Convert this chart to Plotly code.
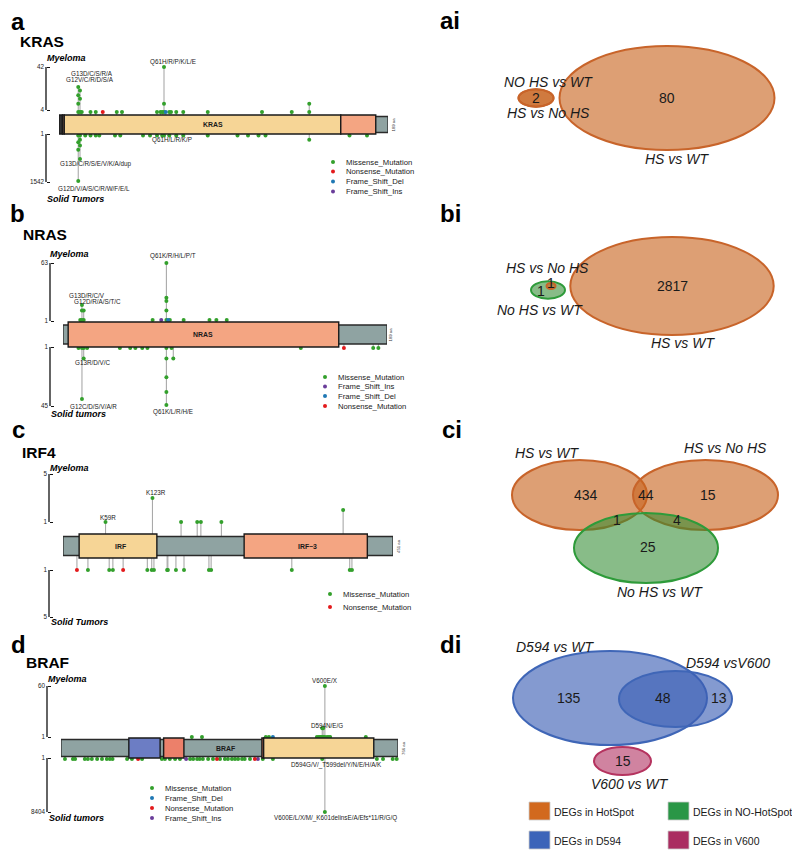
import math
import plotly.graph_objects as go

W, H = 800, 858
OFF = 8                 # default page body margin of the html page
FW, FH = W - OFF, H - OFF

# ============================== DATA ==============================
# mutation type codes: M=Missense, N=Nonsense, D=Frame_Shift_Del, I=Frame_Shift_Ins
MUT_NAMES = {"M": "Missense_Mutation", "N": "Nonsense_Mutation",
             "D": "Frame_Shift_Del", "I": "Frame_Shift_Ins"}

# ---- KRAS ----
kras_length = 189
kras_up_pos = [12, 12, 12, 12, 13, 13, 13, 14, 19, 22, 26, 34, 37, 57, 59, 60, 61, 61, 61,
               62, 64, 65, 68, 72, 86, 117, 134, 144, 144]
kras_up_cnt = [8, 4, 2, 1, 6, 3, 1, 1, 1, 1, 1, 1, 1, 1, 1, 1, 42, 2, 1,
               1, 1, 1, 1, 1, 1, 1, 1, 2, 1]
kras_up_type = ["M", "M", "M", "M", "M", "M", "M", "M", "M", "M", "N", "M", "M", "M", "M", "M", "M", "M", "M",
                "D", "M", "M", "M", "M", "M", "M", "M", "M", "M"]
kras_dn_pos = [12, 12, 12, 12, 13, 13, 13, 13, 16, 19, 22, 24, 33, 36, 49, 53, 57, 60, 61, 64,
               68, 72, 86, 103, 109, 115, 119, 144, 167, 177]
kras_dn_cnt = [1542, 10, 3, 1, 44, 5, 2, 1, 1, 1, 1, 1, 1, 1, 1, 1, 1, 1, 1, 1,
               1, 1, 1, 1, 1, 1, 1, 2, 1, 1]
kras_dn_type = ["M"] * len(kras_dn_pos)
kras_up_max, kras_dn_max = 42, 1542
kras_ticks = ["42", "4", "1", "1542"]
kras_up_labels = ["G13D/C/S/R/A", "G12V/C/R/D/S/A", "Q61H/R/P/K/L/E"]
kras_dn_labels = ["Q61H/L/R/K/P", "G13D/C/R/S/E/V/K/A/dup", "G12D/V/A/S/C/R/W/F/E/L"]
kras_legend = ["M", "N", "D", "I"]
kras_domains = [(1, 3, ""), (3, 4, ""), (4, 162, ""), (162, 182, "")]

# ---- NRAS ----
nras_length = 189
nras_up_pos = [11, 12, 12, 12, 13, 13, 53, 58, 61, 61, 61, 61, 61, 62, 63, 71, 86, 90, 96]
nras_up_cnt = [1, 3, 2, 1, 2, 1, 1, 1, 63, 5, 4, 2, 1, 1, 1, 1, 1, 1, 1]
nras_up_type = ["M", "M", "M", "M", "M", "M", "M", "I", "M", "M", "M", "M", "M", "D", "M", "M", "M", "M", "M"]
nras_dn_pos = [10, 12, 12, 13, 13, 15, 34, 40, 43, 47, 50, 61, 61, 61, 61, 61, 64, 65, 139, 164, 181, 184]
nras_dn_cnt = [1, 30, 1, 2, 1, 1, 1, 1, 1, 1, 1, 45, 19, 7, 2, 1, 1, 2, 1, 1, 1, 1]
nras_dn_type = ["M"] * 19 + ["N", "M", "M"]
nras_up_max, nras_dn_max = 63, 45
nras_ticks = ["63", "1", "1", "45"]
nras_up_labels = ["G13D/R/C/V", "G12D/R/A/S/T/C", "Q61K/R/H/L/P/T"]
nras_dn_labels = ["G13R/D/V/C", "G12C/D/S/V/A/R", "Q61K/L/R/H/E"]
nras_legend = ["M", "I", "D", "N"]
nras_domains = [(4, 161, "NRAS")]

# ---- IRF4 ----
irf4_length = 451
irf4_up_pos = [59, 123, 162, 184, 189, 217, 383]
irf4_up_cnt = [1, 3, 1, 1, 1, 1, 2]
irf4_up_type = ["M"] * 7
irf4_dn_pos = [20, 35, 64, 69, 83, 116, 122, 125, 143, 144, 155, 166, 200, 203, 313, 392, 395]
irf4_dn_cnt = [1] * 17
irf4_dn_type = ["N", "M", "M", "M", "N", "M", "M", "M", "M", "M", "M", "M", "M", "M", "M", "M", "M"]
irf4_up_max, irf4_dn_max = 5, 5
irf4_ticks = ["5", "1", "1", "5"]
irf4_up_labels = ["K59R", "K123R"]
irf4_dn_labels = []
irf4_legend = ["M", "N"]
irf4_domains = [(23, 129, "IRF"), (248, 416, "IRF\u22123")]

# ---- BRAF ----
braf_length = 766
braf_up_pos = [298, 321, 466, 473, 482, 582, 586, 589, 591, 594, 594, 596, 597, 600, 600, 605, 609, 612, 693]
braf_up_cnt = [1, 1, 1, 1, 1, 1, 1, 1, 1, 2, 1, 2, 1, 60, 1, 1, 1, 1, 1]
braf_up_type = ["M", "M", "M", "M", "D"] + ["M"] * 14
braf_dn_pos = [10, 28, 33, 55, 62, 71, 83, 94, 105, 112, 118, 151, 162, 176, 185, 230, 237, 248, 260,
               271, 285, 294, 301, 310, 316, 323, 335, 346, 355, 362, 373, 380, 389, 396, 403, 412,
               418, 430, 441, 448, 459, 482, 594, 600, 718, 732, 754, 763]
braf_dn_cnt = [1] * 43 + [8404, 1, 1, 1, 1]
braf_dn_type = (["M"] * 13 + ["N"] + ["M"] * 6 + ["I"] + ["M"] * 7 + ["N"] + ["M"] * 9
                + ["N", "I"] + ["M"] * 8)
braf_up_max, braf_dn_max = 60, 8404
braf_ticks = ["60", "1", "1", "8404"]
braf_up_labels = ["V600E/X", "D594N/E/G"]
braf_dn_labels = ["D594G/V/_T599del/Y/N/E/H/A/K", "V600E/L/X/M/_K601delinsE/A/Efs*11/R/G/Q"]
braf_legend = ["M", "D", "N", "I"]
braf_domains = [(155, 226, ""), (234, 280, ""), (457, 461, ""), (461, 711, "")]

# ---- Venn diagrams ----
venn_a_labels = ["NO HS vs WT", "HS vs No HS", "HS vs WT"]
venn_a_counts = [2, 80]
venn_b_labels = ["HS vs No HS", "No HS vs WT", "HS vs WT"]
venn_b_counts = [1, 1, 2817]
venn_c_labels = ["HS vs WT", "HS vs No HS", "No HS vs WT"]
venn_c_counts = [434, 44, 15, 1, 4, 25]
venn_d_labels = ["D594 vs WT", "D594 vsV600", "V600 vs WT"]
venn_d_counts = [135, 48, 13, 15]
venn_legend = ["DEGs in HotSpot", "DEGs in NO-HotSpot", "DEGs in D594", "DEGs in V600"]

# ============================== STYLE / LAYOUT ==============================
SANS = "Liberation Sans, Arial, Helvetica, sans-serif"
MUT_COLORS = {"M": "#33A02C", "N": "#E31A1C", "D": "#1F78B4", "I": "#6A3D9A"}
BACKBONE = "#8FA3A2"
YELLOW, SALMON, BLUE_D, SALMON2 = "#F6D596", "#F4A582", "#6C7DC4", "#EC806A"
ORANGE_F, ORANGE_L = "rgba(200,100,30,0.62)", "#C8642A"
GREEN_F, GREEN_L = "rgba(50,140,50,0.58)", "#2E9B3A"
BLUE_F, BLUE_L = "rgba(60,95,180,0.63)", "#3F66B7"
PINK_F, PINK_L = "rgba(176,48,96,0.60)", "#B5335F"


def pxx(px):   # window pixel -> paper x
    return (px - OFF) / FW


def pxy(py):   # window pixel -> paper y
    return 1 - (py - OFF) / FH


panels = [
    dict(name="KRAS", L=kras_length, x0=59, x1=388, center=124.5, dom=9.5, bb=8,
         up_base=12.5, up_top=57.5, dn_base=11, dn_bot=56.5, scale="log",
         tick_px=[67, 110, 134, 182], axis_x=46, ticks=kras_ticks,
         up=(kras_up_pos, kras_up_cnt, kras_up_type, kras_up_max),
         dn=(kras_dn_pos, kras_dn_cnt, kras_dn_type, kras_dn_max),
         domains=kras_domains, dom_colors=["#333333", SALMON, YELLOW, SALMON],
         up_labels=kras_up_labels, up_lab_px=[(92, 73), (90, 79), (173, 62)],
         dn_labels=kras_dn_labels, dn_lab_px=[(172, 140), (96, 164), (94, 188)],
         legend=kras_legend, leg_x=333, leg_y=[162, 171.5, 181.5, 191.5],
         letter="a", letter_xy=(10, 30), gene_xy=(19, 41),
         myeloma="Myeloma", my_xy=(66, 58), solid="Solid Tumors", so_xy=(75, 199),
         inbar=[("KRAS", 213)], aa_x=393),
    dict(name="NRAS", L=nras_length, x0=63, x1=387, center=334.5, dom=12.5, bb=9.5,
         up_base=14.5, up_top=71.5, dn_base=13.5, dn_bot=70.5, scale="log",
         tick_px=[263, 321, 347, 406], axis_x=50, ticks=nras_ticks,
         up=(nras_up_pos, nras_up_cnt, nras_up_type, nras_up_max),
         dn=(nras_dn_pos, nras_dn_cnt, nras_dn_type, nras_dn_max),
         domains=nras_domains, dom_colors=[SALMON],
         up_labels=nras_up_labels, up_lab_px=[(87, 295), (97, 301), (173, 256)],
         dn_labels=nras_dn_labels, dn_lab_px=[(92, 362), (93, 406), (173, 412)],
         legend=nras_legend, leg_x=325, leg_y=[377, 386.5, 396, 406],
         letter="b", letter_xy=(9, 222), gene_xy=(22, 234.5),
         myeloma="Myeloma", my_xy=(69, 254), solid="Solid tumors", so_xy=(78, 414),
         inbar=[("NRAS", 203)], aa_x=390),
    dict(name="IRF4", L=irf4_length, x0=63, x1=393, center=546, dom=12, bb=9.5,
         up_base=24, up_top=72, dn_base=24, dn_bot=71, scale="linear",
         tick_px=[474, 522, 570, 617], axis_x=49, ticks=irf4_ticks,
         up=(irf4_up_pos, irf4_up_cnt, irf4_up_type, irf4_up_max),
         dn=(irf4_dn_pos, irf4_dn_cnt, irf4_dn_type, irf4_dn_max),
         domains=irf4_domains, dom_colors=[YELLOW, SALMON],
         up_labels=irf4_up_labels, up_lab_px=[(108, 517), (156, 492)],
         dn_labels=irf4_dn_labels, dn_lab_px=[],
         legend=irf4_legend, leg_x=330, leg_y=[594, 607],
         letter="c", letter_xy=(11, 438), gene_xy=(21, 452.5),
         myeloma="Myeloma", my_xy=(69, 468), solid="Solid Tumors", so_xy=(79, 621.5),
         inbar=[("IRF", 120), ("IRF\u22123", 307)], aa_x=398),
    dict(name="BRAF", L=braf_length, x0=61, x1=398, center=748, dom=10, bb=8.5,
         up_base=11, up_top=62, dn_base=11, dn_bot=64, scale="log",
         tick_px=[686, 737, 758, 812], axis_x=47, ticks=braf_ticks,
         up=(braf_up_pos, braf_up_cnt, braf_up_type, braf_up_max),
         dn=(braf_dn_pos, braf_dn_cnt, braf_dn_type, braf_dn_max),
         domains=braf_domains, dom_colors=[BLUE_D, SALMON2, SALMON2, YELLOW],
         up_labels=braf_up_labels, up_lab_px=[(325, 680), (327, 725)],
         dn_labels=braf_dn_labels, dn_lab_px=[(336, 765), (335, 818)],
         legend=braf_legend, leg_x=152, leg_y=[788, 798, 808, 818],
         letter="d", letter_xy=(10, 653), gene_xy=(25, 662.5),
         myeloma="Myeloma", my_xy=(67, 679), solid="Solid tumors", so_xy=(76, 817.5),
         inbar=[("BRAF", 225)], aa_x=403),
]


def frac(c, cmax, scale):
    if scale == "log":
        return math.log(c) / math.log(cmax)
    return (c - 1) / (cmax - 1)


def txt(x, y, s, size, bold=False, italic=False, xanchor="center", color="#1a1a1a",
        angle=0, family=SANS):
    return dict(xref="x5", yref="y5", x=x, y=y, text=s, showarrow=False,
                xanchor=xanchor, yanchor="middle", textangle=angle, borderpad=0,
                font=dict(size=size, family=family, color=color,
                          weight="bold" if bold else "normal",
                          style="italic" if italic else "normal"))


fig = go.Figure()
shapes, annos = [], []
layout_axes = {}

for k, g in enumerate(panels, start=1):
    sfx = "" if k == 1 else str(k)
    xa, ya = "x" + sfx, "y" + sfx
    c = g["center"]
    top_px = g["tick_px"][0] - 14
    bot_px = g["tick_px"][3] + 14
    layout_axes["xaxis" + sfx] = dict(domain=[pxx(g["x0"]), pxx(g["x1"])], range=[1, g["L"]],
                                      visible=False, fixedrange=True, anchor=ya)
    layout_axes["yaxis" + sfx] = dict(
        domain=[pxy(bot_px), pxy(top_px)], range=[c - bot_px, c - top_px],
        anchor="free", position=pxx(g["axis_x"]), showgrid=False, zeroline=False,
        showline=False, ticks="inside", ticklen=3, tickwidth=1.3, tickcolor="#111",
        tickvals=[c - p for p in g["tick_px"]], ticktext=g["ticks"],
        tickfont=dict(size=6.3, family=SANS, color="#222"), ticklabelstandoff=2,
        fixedrange=True)
    # bracket axis lines
    for a, b in [(0, 1), (2, 3)]:
        shapes.append(dict(type="line", xref="paper", yref=ya, x0=pxx(g["axis_x"]), x1=pxx(g["axis_x"]),
                           y0=c - g["tick_px"][a], y1=c - g["tick_px"][b],
                           line=dict(color="#111", width=1.3), layer="above"))

    # lollipops
    pts = {t: ([], []) for t in MUT_COLORS}
    stems = {}
    for side in ("up", "dn"):
        pos, cnt, typ, cmax = g[side]
        sign = 1 if side == "up" else -1
        base = g["up_base"] if side == "up" else g["dn_base"]
        top = g["up_top"] if side == "up" else g["dn_bot"]
        for p, n, t in zip(pos, cnt, typ):
            y = sign * (base + frac(n, cmax, g["scale"]) * (top - base))
            pts[t][0].append(p)
            pts[t][1].append(y)
            key = (p, side)
            if key not in stems or abs(y) > abs(stems[key]):
                stems[key] = y
    sx, sy = [], []
    for (p, side), y in stems.items():
        sx += [p, p, None]
        sy += [0, y, None]
    fig.add_trace(go.Scatter(x=sx, y=sy, mode="lines", xaxis=xa, yaxis=ya,
                             line=dict(color="#A9A9A9", width=1.1), hoverinfo="skip",
                             showlegend=False))
    for t in ["M", "D", "I", "N"]:
        if pts[t][0]:
            fig.add_trace(go.Scatter(x=pts[t][0], y=pts[t][1], mode="markers", xaxis=xa, yaxis=ya,
                                     marker=dict(color=MUT_COLORS[t], size=4, line=dict(width=0)),
                                     cliponaxis=False, showlegend=False, name=MUT_NAMES[t]))
    # protein backbone + domains
    shapes.append(dict(type="rect", xref=xa, yref=ya, x0=1, x1=g["L"], y0=-g["bb"], y1=g["bb"],
                       fillcolor=BACKBONE, line=dict(color="#2a2a2a", width=1.3), layer="above"))
    for (d0, d1, _), col in zip(g["domains"], g["dom_colors"]):
        shapes.append(dict(type="rect", xref=xa, yref=ya, x0=d0, x1=d1, y0=-g["dom"], y1=g["dom"],
                           fillcolor=col, line=dict(color="#1a1a1a", width=1.4), layer="above"))
    for s, xp in g["inbar"]:
        annos.append(txt(xp, c, s, 6.9, bold=True))
    annos.append(txt(g["aa_x"], c, f"{g['L']} aa", 4.3, angle=-90, color="#333"))

    # mutation labels
    for s, (lx, ly) in zip(g["up_labels"], g["up_lab_px"]):
        annos.append(txt(lx, ly, s, 6.3))
    for s, (lx, ly) in zip(g["dn_labels"], g["dn_lab_px"]):
        annos.append(txt(lx, ly, s, 6.3))

    # panel titles
    lx, lb = g["letter_xy"]
    annos.append(txt(lx, lb - 0.35 * 24, g["letter"], 24, bold=True, xanchor="left", color="#000"))
    gx, gy = g["gene_xy"]
    annos.append(txt(gx, gy, g["name"], 15.5, bold=True, xanchor="left", color="#000"))
    annos.append(txt(*g["my_xy"], g["myeloma"], 9, bold=True, italic=True, color="#000"))
    annos.append(txt(*g["so_xy"], g["solid"], 9, bold=True, italic=True, color="#000"))

    # legend
    fig.add_trace(go.Scatter(x=[g["leg_x"]] * len(g["legend"]), y=g["leg_y"][:len(g["legend"])],
                             mode="markers", xaxis="x5", yaxis="y5", hoverinfo="skip",
                             marker=dict(color=[MUT_COLORS[t] for t in g["legend"]], size=4),
                             showlegend=False, cliponaxis=False))
    for t, ly in zip(g["legend"], g["leg_y"]):
        annos.append(txt(g["leg_x"] + 12, ly, MUT_NAMES[t], 7.7, xanchor="left"))

# canvas axes (window pixel coordinates) for Venn diagrams, titles & legends
layout_axes["xaxis5"] = dict(domain=[0, 1], range=[OFF, W], visible=False, fixedrange=True, anchor="y5")
layout_axes["yaxis5"] = dict(domain=[0, 1], range=[H, OFF], visible=False, fixedrange=True, anchor="x5")


def ellipse(cx, cy, rx, ry, fill, line):
    return dict(type="circle", xref="x5", yref="y5", x0=cx - rx, x1=cx + rx, y0=cy - ry, y1=cy + ry,
                fillcolor=fill, line=dict(color=line, width=2), layer="above")


# ai
shapes += [ellipse(667, 98, 107.5, 52, ORANGE_F, ORANGE_L),
           ellipse(536, 98, 17.5, 8.7, ORANGE_F, ORANGE_L),
           ellipse(536, 98, 17.5, 8.7, ORANGE_F, ORANGE_L)]
annos += [txt(439, 29 - 0.35 * 24, "ai", 24, bold=True, xanchor="left", color="#000"),
          txt(548, 82, venn_a_labels[0], 14, italic=True),
          txt(548, 113, venn_a_labels[1], 14, italic=True),
          txt(677, 159, venn_a_labels[2], 14, italic=True),
          txt(536, 98, str(venn_a_counts[0]), 14),
          txt(667, 98, str(venn_a_counts[1]), 14)]
# bi
shapes += [ellipse(672, 286, 101.7, 49, ORANGE_F, ORANGE_L),
           ellipse(548, 290, 17, 8.7, GREEN_F, GREEN_L),
           ellipse(551, 286, 4.5, 3, ORANGE_F, ORANGE_L)]
annos += [txt(439, 222 - 0.35 * 24, "bi", 24, bold=True, xanchor="left", color="#000"),
          txt(547, 268, venn_b_labels[0], 14, italic=True),
          txt(540, 310, venn_b_labels[1], 14, italic=True),
          txt(683, 343, venn_b_labels[2], 14, italic=True),
          txt(551, 283, str(venn_b_counts[0]), 14),
          txt(541, 291, str(venn_b_counts[1]), 14),
          txt(672, 286, str(venn_b_counts[2]), 14)]
# ci
shapes += [ellipse(579.5, 495, 67.5, 35, ORANGE_F, ORANGE_L),
           ellipse(705.5, 495, 72.5, 35, ORANGE_F, ORANGE_L),
           ellipse(646, 548, 72, 35, GREEN_F, GREEN_L)]
annos += [txt(441, 438 - 0.35 * 24, "ci", 24, bold=True, xanchor="left", color="#000"),
          txt(547, 453, venn_c_labels[0], 14, italic=True),
          txt(725, 448, venn_c_labels[1], 14, italic=True),
          txt(660, 592, venn_c_labels[2], 14, italic=True)]
for s, (x, y) in zip(venn_c_counts, [(586, 495), (646, 495), (708, 495), (617, 520), (677, 520), (648, 547)]):
    annos.append(txt(x, y, str(s), 14))
# di
shapes += [ellipse(610, 698, 97, 47, BLUE_F, BLUE_L),
           ellipse(675.5, 699, 56.5, 28, BLUE_F, BLUE_L),
           ellipse(622.5, 761, 28.5, 14, PINK_F, PINK_L)]
annos += [txt(439, 653 - 0.35 * 24, "di", 24, bold=True, xanchor="left", color="#000"),
          txt(555, 647, venn_d_labels[0], 14, italic=True),
          txt(728, 663, venn_d_labels[1], 14, italic=True),
          txt(630, 784, venn_d_labels[2], 14, italic=True)]
for s, (x, y) in zip(venn_d_counts, [(569, 698), (663, 698), (719, 698), (623, 761)]):
    annos.append(txt(x, y, str(s), 14))
# Venn legend
leg_cols = ["#D2691E", "#2A9646", "#3C64B9", "#AA2D61"]
leg_pos = [(529, 802), (668, 802), (529, 831), (668, 831)]
for s, col, (x, y) in zip(venn_legend, leg_cols, leg_pos):
    shapes.append(dict(type="rect", xref="x5", yref="y5", x0=x, x1=x + 21, y0=y, y1=y + 18,
                       fillcolor=col, line=dict(color="#cccccc", width=0.8), layer="above"))
    annos.append(txt(x + 24, y + 9.5, s, 10.5, xanchor="left"))

fig.update_layout(width=FW, height=FH, margin=dict(l=0, r=0, t=0, b=0),
                  paper_bgcolor="white", plot_bgcolor="rgba(0,0,0,0)",
                  showlegend=False, shapes=shapes, annotations=annos, **layout_axes)
fig.write_html("out.html")
